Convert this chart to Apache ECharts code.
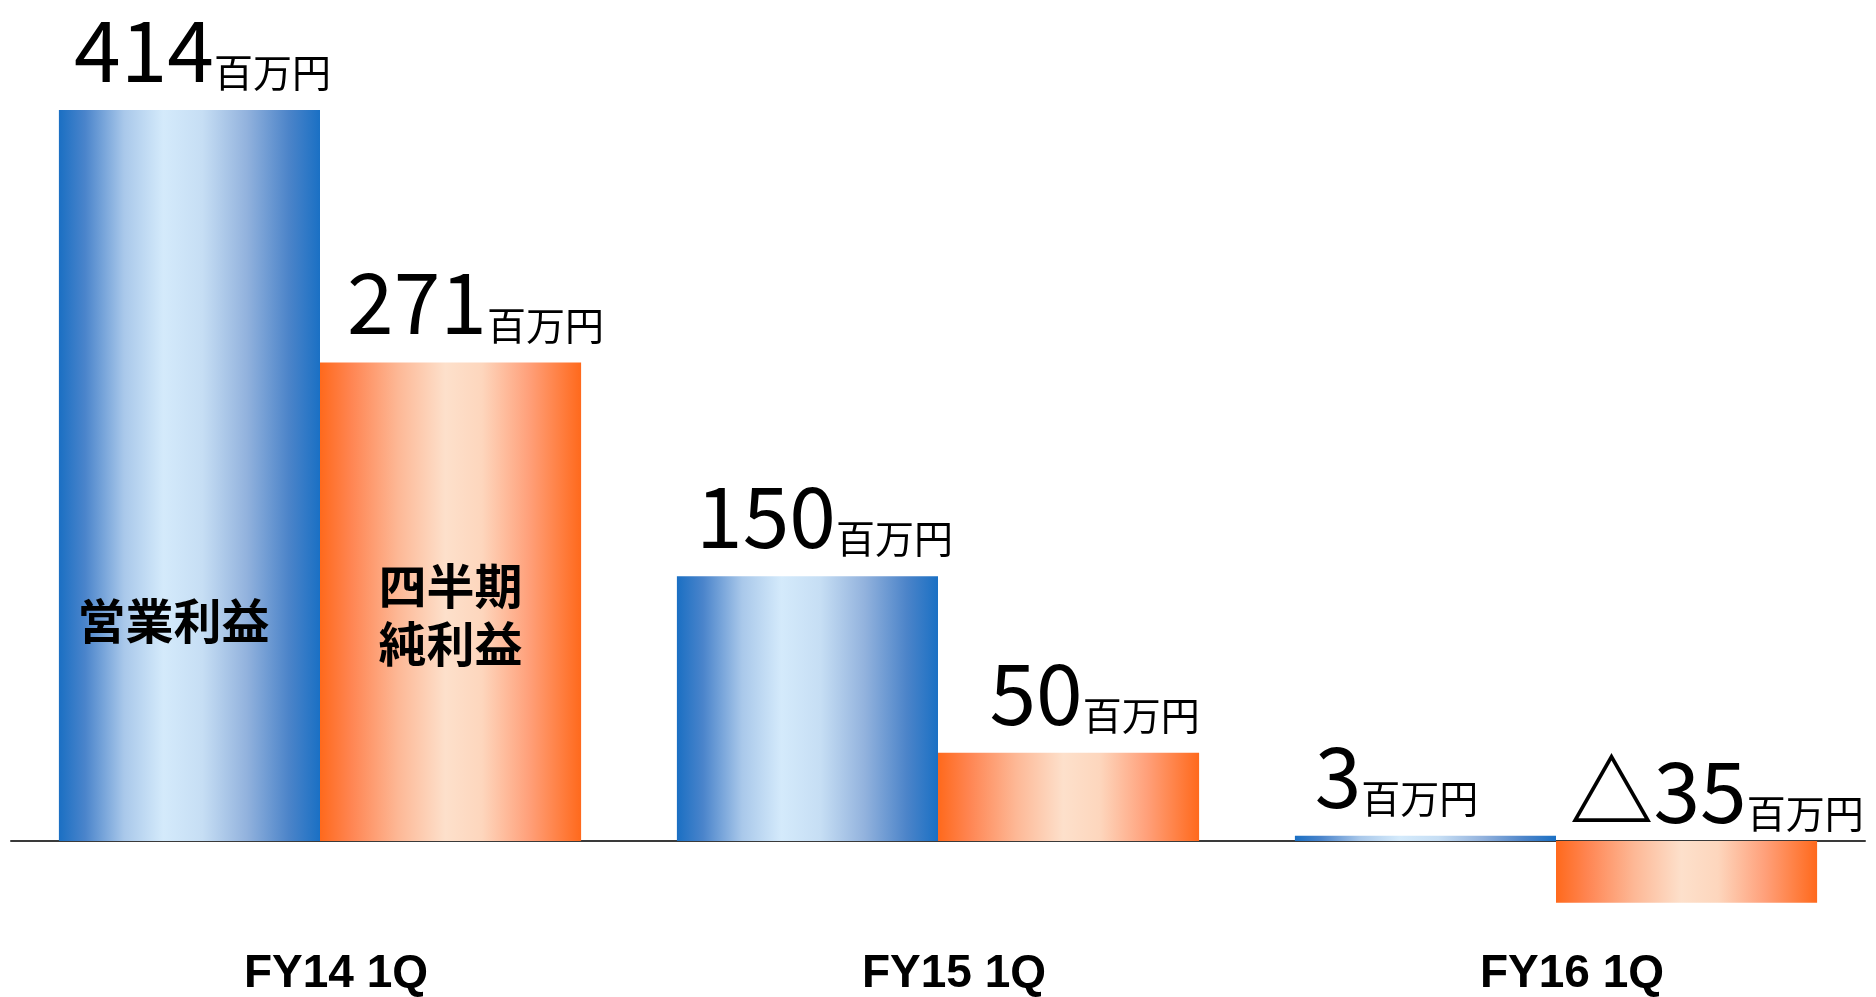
<!DOCTYPE html>
<html>
<head>
<meta charset="utf-8">
<script src="https://cdn.jsdelivr.net/npm/echarts@6/dist/echarts.min.js"></script>
<style>
  html, body { margin: 0; padding: 0; background: #fff; }
  #chart { width: 1876px; height: 997px; }
</style>
</head>
<body>
<div id="chart"></div>
<script>
var categories = ['FY14 1Q', 'FY15 1Q', 'FY16 1Q'];
var operatingProfit = [414, 150, 3];
var netProfit = [271, 50, -35];
var seriesNames = ['営業利益', '四半期純利益'];
var unit = '百万円';

// where the series names sit inside the first pair of bars
var nameLabelAt = [125, 128];
// small nudges of the value labels
var blueShift = [[13, 0], [17, 0], [-29, 0]];
var orangeShift = [[25, 0], [26, 0], [30, 10]];

function valueText(v) {
  return v < 0 ? '{t|△}{n|' + Math.abs(v) + '}' : '{n|' + v + '}';
}

function gradient(stops) {
  return new echarts.graphic.LinearGradient(0, 0, 1, 0, stops.map(function (s) {
    return { offset: s[0], color: s[1] };
  }));
}

var blueFill = gradient([
  [0, '#1a6fc3'], [0.1, '#4a84cb'], [0.25, '#a9c8ea'], [0.4, '#d4eafb'],
  [0.55, '#c6def4'], [0.72, '#92b2dd'], [0.88, '#4c84c9'], [1, '#1a70c4']
]);
var orangeFill = gradient([
  [0, '#ff691c'], [0.12, '#ff8552'], [0.3, '#fdb896'], [0.48, '#fde0cb'],
  [0.62, '#fdd6bd'], [0.8, '#ffa07a'], [1, '#ff691c']
]);

var richStyle = {
  n: { fontFamily: 'Noto Sans CJK JP', fontSize: 84, color: '#000', fontWeight: 'normal', verticalAlign: 'bottom' },
  t: { fontFamily: 'Noto Sans CJK JP', fontSize: 84, color: '#000', fontWeight: 'bold', verticalAlign: 'bottom' },
  u: { fontFamily: 'Noto Sans CJK JP', fontSize: 39, color: '#000', verticalAlign: 'bottom' }
};

function barData(values, shifts) {
  return values.map(function (v, i) {
    return { value: v, label: { offset: shifts[i] } };
  });
}

function valueLabel() {
  return {
    show: true,
    position: 'top',
    distance: 18,
    formatter: function (p) {
      return valueText(p.value) + '{u|' + unit + '}';
    },
    rich: richStyle
  };
}

function nameMark(text, y, dx) {
  return {
    symbol: 'rect',
    symbolSize: 1,
    silent: true,
    itemStyle: { color: 'rgba(0,0,0,0)' },
    label: {
      show: true,
      position: 'inside',
      offset: [dx, 0],
      formatter: text,
      fontFamily: 'Noto Sans CJK JP',
      fontWeight: 'bold',
      fontSize: 48,
      lineHeight: 58,
      color: '#000'
    },
    data: [{ coord: [categories[0], y] }]
  };
}

var chart = echarts.init(document.getElementById('chart'));
chart.setOption({
  animation: false,
  grid: { left: 11, right: 11, top: 64, bottom: 50, outerBoundsMode: 'none', containLabel: false },
  xAxis: [{
    // zero line
    type: 'category',
    data: categories,
    axisLine: { onZero: true, lineStyle: { color: '#3a3a3a', width: 2 } },
    axisTick: { show: false },
    axisLabel: { show: false }
  }, {
    // category names along the bottom
    type: 'category',
    data: categories,
    position: 'bottom',
    axisLine: { show: false, onZero: false },
    axisTick: { show: false },
    axisLabel: {
      margin: 4,
      padding: [0, 0, 0, 32],
      color: '#000',
      fontFamily: 'Liberation Sans',
      fontWeight: 'bold',
      fontSize: 46
    }
  }],
  yAxis: {
    type: 'value',
    min: -60,
    max: 440,
    show: false,
    splitLine: { show: false }
  },
  series: [{
    name: seriesNames[0],
    type: 'bar',
    barGap: 0,
    barCategoryGap: '15.5%',
    itemStyle: { color: blueFill },
    label: valueLabel(),
    data: barData(operatingProfit, blueShift),
    markPoint: nameMark('営業利益', nameLabelAt[0], -16)
  }, {
    name: seriesNames[1],
    type: 'bar',
    barGap: 0,
    barCategoryGap: '15.5%',
    itemStyle: { color: orangeFill },
    label: valueLabel(),
    data: barData(netProfit, orangeShift),
    markPoint: nameMark('四半期\n純利益', nameLabelAt[1], 0)
  }]
});
</script>
</body>
</html>
